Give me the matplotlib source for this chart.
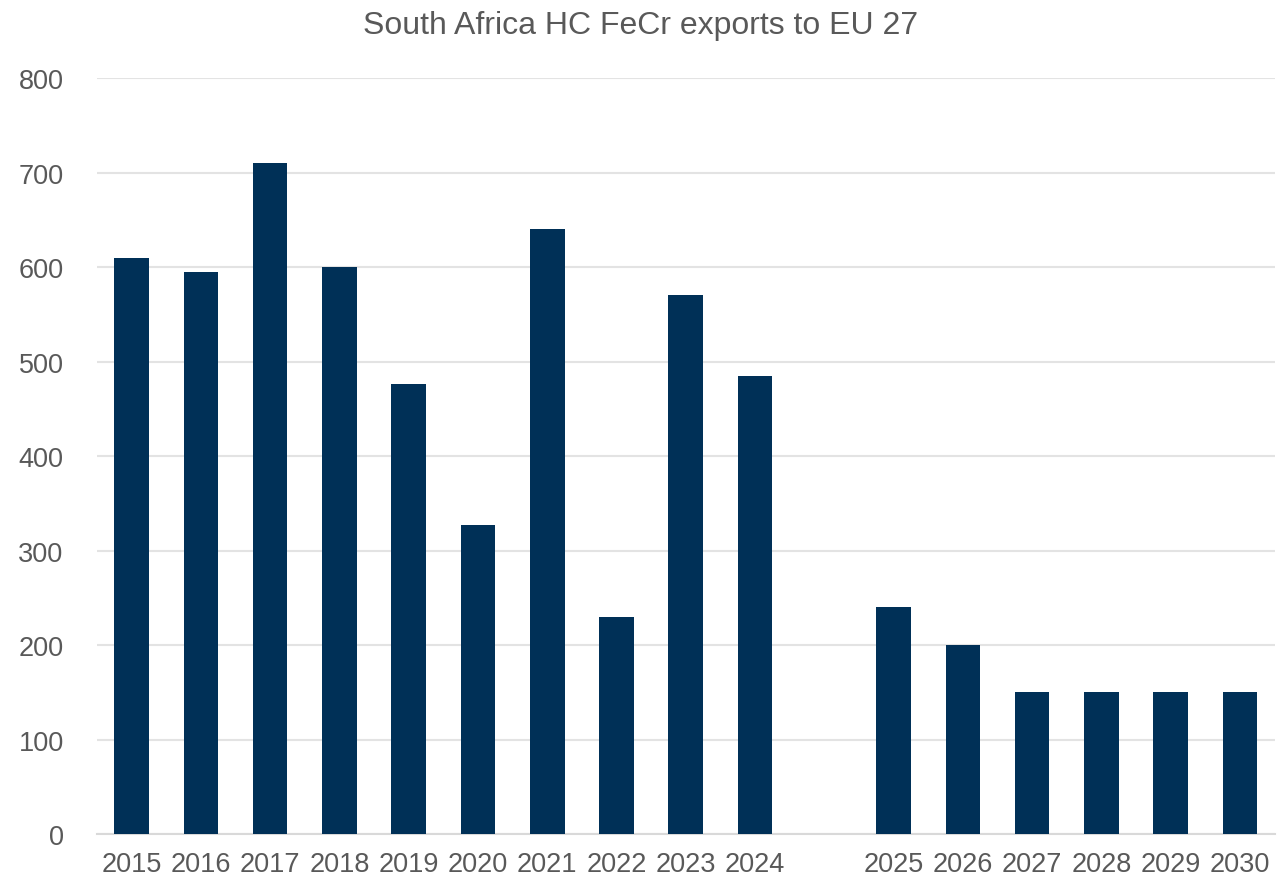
import matplotlib.pyplot as plt

years = ["2015", "2016", "2017", "2018", "2019", "2020", "2021", "2022", "2023", "2024",
         "", "2025", "2026", "2027", "2028", "2029", "2030"]
exports = [610, 595, 710, 600, 476, 327, 640, 230, 570, 485,
           0, 240, 200, 150, 150, 150, 150]
yticks = [0, 100, 200, 300, 400, 500, 600, 700, 800]

plt.rcParams['font.family'] = ['Liberation Sans', 'DejaVu Sans']
text_color = '#595959'

fig = plt.figure(figsize=(12.81, 8.79), dpi=100)
ax = fig.add_axes([0.0757, 0.05, 0.9193, 0.86])

x = list(range(len(years)))
ax.bar(x, exports, width=0.5, color='#003057', zorder=3)

ax.set_xlim(-0.5, len(years) - 0.5)
ax.set_ylim(0, 800)
ax.set_yticks(yticks)
ax.set_xticks(x)
ax.set_xticklabels(years)

ax.grid(axis='y', color='#e3e3e3', linewidth=1.5, zorder=0)
for s in ['top', 'right', 'left']:
    ax.spines[s].set_visible(False)
ax.spines['bottom'].set_color('#d9d9d9')
ax.spines['bottom'].set_linewidth(1.5)
ax.tick_params(axis='both', length=0, labelsize=19.5, colors=text_color)
ax.tick_params(axis='y', pad=24)
ax.tick_params(axis='x', pad=12)

fig.suptitle("South Africa HC FeCr exports to EU 27", y=0.988, fontsize=23, color=text_color)

fig.savefig("out.png", dpi=100)
